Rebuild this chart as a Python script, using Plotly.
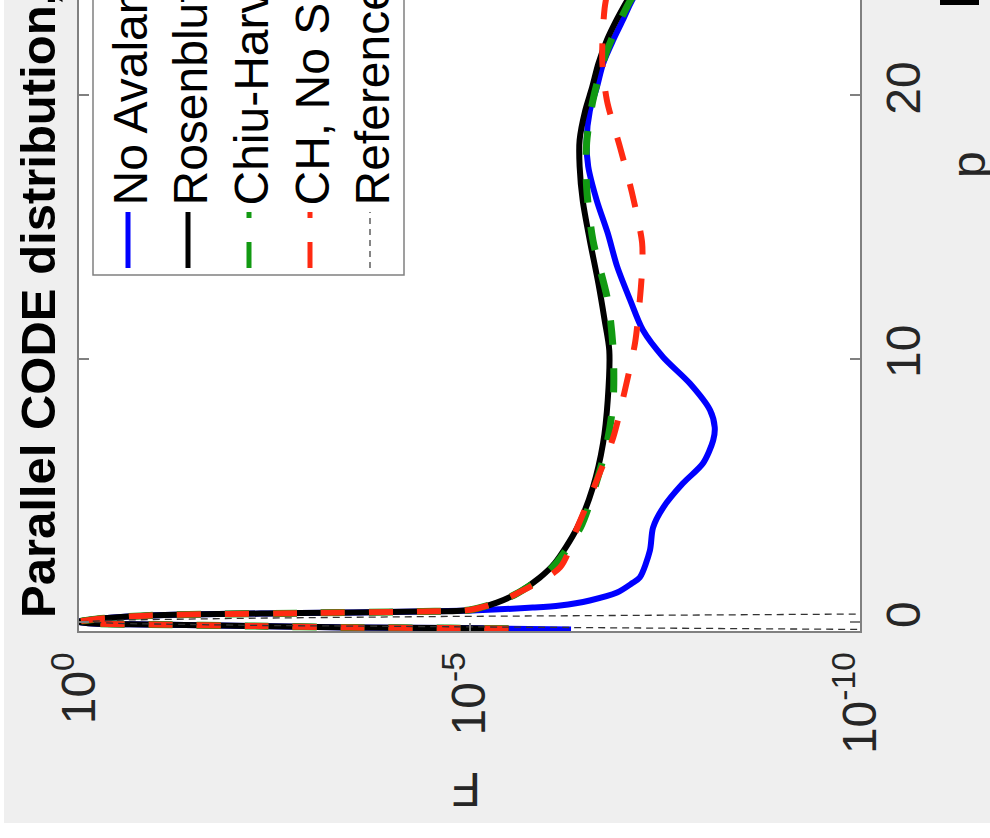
import numpy as np
import plotly.graph_objects as go

# ---- data: parallel momentum p and log10 of the distribution F ----
p_noaval = [-0.29, -0.26, -0.24, -0.22, -0.16, -0.10, -0.065, 0.0, 0.09, 0.24, 0.33, 0.39,
            0.44, 0.54, 0.62, 0.81, 1.11, 1.46, 1.68, 2.71, 3.58, 4.34, 5.25, 6.02, 6.89,
            7.39, 8.04, 9.06, 10.05, 11.08, 12.2, 13.5, 14.76, 16.0, 17.3, 18.3, 19.4,
            20.3, 21.2, 22.1, 22.9, 23.6, 24.4]
lgF_noaval = [-6.3, -5.5, -4.75, -3.47, -2.19, -0.91, -0.18, 0.0, -0.18, -0.91, -2.83, -4.37,
              -5.1, -5.81, -6.16, -6.54, -6.89, -7.08, -7.18, -7.31, -7.35, -7.48, -7.73, -7.99,
              -8.12, -8.14, -8.08, -7.82, -7.48, -7.22, -7.06, -6.89, -6.77, -6.63, -6.52,
              -6.50, -6.54, -6.63, -6.71, -6.84, -6.97, -7.08, -7.25]

p_rp = [-0.26, -0.24, -0.22, -0.16, -0.10, -0.065, 0.0, 0.09, 0.24, 0.33, 0.39, 0.45, 0.73,
        1.08, 1.68, 2.22, 3.58, 5.11, 6.78, 8.42, 10.3, 11.46, 12.86, 14.5, 16.0, 17.3,
        18.3, 19.4, 20.3, 21.2, 22.1, 22.9, 23.6, 24.4]
lgF_rp = [-5.5, -4.75, -3.47, -2.19, -0.91, -0.18, 0.0, -0.18, -0.91, -2.83, -4.37, -5.0,
          -5.35, -5.61, -5.90, -6.09, -6.38, -6.58, -6.71, -6.77, -6.79, -6.73, -6.65, -6.54,
          -6.45, -6.41, -6.41, -6.48, -6.57, -6.65, -6.76, -6.89, -7.02, -7.18]

p_ch = [-0.26, -0.24, -0.22, -0.16, -0.10, -0.065, 0.0, 0.09, 0.24, 0.33, 0.39, 0.45, 0.73,
        1.08, 1.68, 2.22, 3.58, 4.87, 6.78, 8.4, 10.3, 12.2, 14.5, 16.5, 18.2, 19.8, 21.7,
        23.6, 24.4]
lgF_ch = [-5.5, -4.75, -3.47, -2.19, -0.91, -0.18, 0.0, -0.18, -0.91, -2.83, -4.37, -5.0,
          -5.35, -5.61, -5.92, -6.11, -6.42, -6.58, -6.76, -6.84, -6.84, -6.77, -6.58, -6.50,
          -6.50, -6.58, -6.76, -7.06, -7.25]

p_chns = [-0.26, -0.24, -0.22, -0.16, -0.10, -0.065, 0.0, 0.09, 0.24, 0.33, 0.39, 0.45, 0.73,
          1.08, 2.07, 3.58, 5.37, 7.0, 8.8, 10.6, 12.2, 13.4, 14.4, 16.3, 18.0, 19.8, 21.3,
          23.3, 24.4]
lgF_chns = [-5.5, -4.75, -3.47, -2.19, -0.91, -0.18, 0.0, -0.18, -0.91, -2.83, -4.37, -5.0,
            -5.35, -5.61, -6.16, -6.38, -6.63, -6.84, -6.99, -7.12, -7.18, -7.21, -7.21,
            -7.08, -6.93, -6.76, -6.70, -6.73, -6.80]

p_ref = [-0.32, -0.30, -0.29, -0.27, -0.24, -0.20, -0.14, -0.07, 0.0, 0.07, 0.14, 0.20,
         0.24, 0.27, 0.29, 0.30, 0.32]
lgF_ref = [-11.5, -10.3, -9.6, -8.4, -6.6, -4.6, -2.3, -0.6, 0.0, -0.6, -2.3, -4.6, -6.6,
           -8.4, -9.6, -10.3, -11.5]

series_names = ["No Avalanche", "Rosenbluth-Putvinski", "Chiu-Harvey", "CH, No Sink", "Reference"]
F_tickvals = [1e0, 1e-5, 1e-10]
F_ticktext = ["10<sup>0</sup>", "10<sup>-5</sup>", "10<sup>-10</sup>"]
p_tickvals = [0, 10, 20]

# ---- styles ----
FONT = "Liberation Sans, Arial, sans-serif"
BLUE, BLACK, GREEN, RED = "#0000ff", "#000000", "#129a12", "#ff2a12"
AXC = "#808080"
W, H = 990, 838
ML, MR, MT, MB = 79, 130, 0, 207
PW, PH = W - ML - MR, H - MT - MB


def px(X):
    return (X - ML) / PW


def py(Y):
    return (H - MB - Y) / PH


fig = go.Figure()

# the panel is laid out sideways: F runs horizontally, p runs vertically
styles = [
    (p_noaval, lgF_noaval, BLUE, 6, "solid"),
    (p_rp, lgF_rp, BLACK, 6, "solid"),
    (p_ch, lgF_ch, GREEN, 7, "24px,24px"),
    (p_chns, lgF_chns, RED, 6, "24px,24px"),
]
for (pp, lf, col, lw, dash), name in zip(styles, series_names[:4]):
    fig.add_trace(go.Scatter(
        x=10 ** np.array(lf), y=pp, mode="lines", name=name,
        line=dict(color=col, width=lw, dash=dash, shape="spline", smoothing=0.8),
        showlegend=False))
fig.add_trace(go.Scatter(
    x=10 ** np.array(lgF_ref), y=p_ref, mode="lines", name=series_names[4],
    line=dict(color="#333333", width=1.3, dash="7px,5px"), showlegend=False))

fig.update_xaxes(
    type="log", range=[0, -10], tickvals=F_tickvals, ticktext=F_ticktext,
    tickangle=-90, ticks="inside", ticklen=8, tickwidth=1.5, tickcolor=AXC,
    showline=True, linecolor=AXC, linewidth=2, mirror=False,
    showgrid=False, zeroline=False,
    tickfont=dict(family=FONT, size=48, color="#262626"))
fig.update_yaxes(
    range=[-0.35, 23.62], tickvals=p_tickvals, side="right",
    tickangle=-90, ticks="inside", ticklen=10, tickwidth=1.5, tickcolor=AXC,
    showline=True, linecolor=AXC, linewidth=2, mirror="ticks",
    showgrid=False, zeroline=False,
    tickfont=dict(family=FONT, size=48, color="#262626"))

shapes = []
# white strips at the left and bottom edges of the figure
shapes.append(dict(type="rect", xref="paper", yref="paper", x0=px(-20), x1=px(4),
                   y0=py(860), y1=py(-20), fillcolor="white", line=dict(width=0)))
shapes.append(dict(type="rect", xref="paper", yref="paper", x0=px(-20), x1=px(1010),
                   y0=py(860), y1=py(823), fillcolor="white", line=dict(width=0)))
# fragment of neighbouring text at the top right
shapes.append(dict(type="rect", xref="paper", yref="paper", x0=px(940), x1=px(979),
                   y0=py(5), y1=py(-5), fillcolor="black", line=dict(width=0)))

# legend box (sideways)
shapes.append(dict(type="rect", xref="paper", yref="paper", x0=px(93), x1=px(404),
                   y0=py(275), y1=py(-10), fillcolor="white",
                   line=dict(color=AXC, width=1.5)))
leg_x = [128, 188, 249, 310, 370]
leg_style = [(BLUE, 5, "solid"), (BLACK, 5, "solid"), (GREEN, 5, "26px,24px"),
             (RED, 5, "26px,24px"), ("#444444", 1.3, "6px,5px")]
for lx, (col, lw, dash) in zip(leg_x, leg_style):
    shapes.append(dict(type="line", xref="paper", yref="paper", x0=px(lx), x1=px(lx),
                       y0=py(268), y1=py(212), line=dict(color=col, width=lw, dash=dash)))

annotations = []
for lx, name in zip(leg_x, series_names):
    annotations.append(dict(xref="paper", yref="paper", x=px(lx + 2), y=py(208),
                            xanchor="center", yanchor="bottom", text=name, textangle=-90,
                            showarrow=False, font=dict(family=FONT, size=48, color="black")))
annotations.append(dict(xref="paper", yref="paper", x=px(38), y=py(620),
                        xanchor="center", yanchor="bottom",
                        text="<b>Parallel CODE distribution, </b>", textangle=-90,
                        showarrow=False, font=dict(family=FONT, size=49, color="black")))
annotations.append(dict(xref="paper", yref="paper", x=px(467), y=py(790),
                        xanchor="center", yanchor="middle", text="F", textangle=180,
                        showarrow=False, font=dict(family=FONT, size=48, color="#262626")))
annotations.append(dict(xref="paper", yref="paper", x=px(968), y=py(165),
                        xanchor="center", yanchor="middle", text="p", textangle=-90,
                        showarrow=False, font=dict(family=FONT, size=48, color="#262626")))

fig.update_layout(
    width=W, height=H, autosize=False,
    margin=dict(l=ML, r=MR, t=MT, b=MB, pad=0),
    paper_bgcolor="#efefef", plot_bgcolor="white",
    shapes=shapes, annotations=annotations, showlegend=False)

fig.write_html("out.html")
